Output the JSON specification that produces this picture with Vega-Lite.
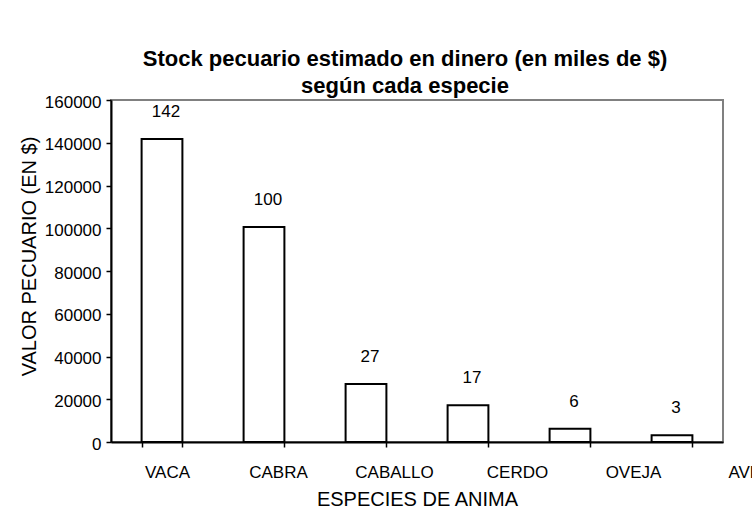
{
  "$schema": "https://vega.github.io/schema/vega-lite/v6.json",
  "width": 612,
  "height": 342,
  "autosize": {"type": "none"},
  "padding": {"left": 111, "top": 100, "right": 29, "bottom": 66},
  "background": "white",
  "title": {
    "text": ["Stock pecuario estimado en dinero (en miles de $)", "según cada especie"],
    "anchor": "middle",
    "dx": -12,
    "fontSize": 22,
    "fontWeight": "bold",
    "font": "Liberation Sans",
    "color": "black",
    "lineHeight": 27,
    "baseline": "bottom",
    "offset": -27
  },
  "data": {
    "values": [
      {"especie": "VACA", "valor": 141800, "etiqueta": "142"},
      {"especie": "CABRA", "valor": 100600, "etiqueta": "100"},
      {"especie": "CABALLO", "valor": 27100, "etiqueta": "27"},
      {"especie": "CERDO", "valor": 17200, "etiqueta": "17"},
      {"especie": "OVEJA", "valor": 6200, "etiqueta": "6"},
      {"especie": "AVES", "valor": 3100, "etiqueta": "3"}
    ]
  },
  "encoding": {
    "x": {
      "field": "especie",
      "type": "nominal",
      "sort": null,
      "scale": {"paddingInner": 0.6, "paddingOuter": 0.3},
      "axis": {
        "title": "ESPECIES DE ANIMA",
        "titleFontSize": 20,
        "titleFontWeight": "normal",
        "titleColor": "black",
        "titleBaseline": "alphabetic",
        "titleY": 63,
        "labelAngle": 0,
        "labelFontSize": 17,
        "labelColor": "black",
        "labelPadding": 30,
        "labelBaseline": "alphabetic",
        "labelOverlap": false,
        "labelOffset": {"expr": "datum.value === 'VACA' ? 5 : datum.value === 'CABRA' ? 14 : datum.value === 'CABALLO' ? 28 : datum.value === 'CERDO' ? 49 : datum.value === 'OVEJA' ? 63 : 78"},
        "tickBand": "extent",
        "tickSize": 5,
        "tickWidth": 1.5,
        "tickColor": "black",
        "domainColor": "black",
        "domainWidth": 2,
        "grid": false
      }
    },
    "y": {
      "field": "valor",
      "type": "quantitative",
      "scale": {"domain": [0, 160000], "nice": false},
      "axis": {
        "values": [0, 20000, 40000, 60000, 80000, 100000, 120000, 140000, 160000],
        "format": "d",
        "title": "VALOR PECUARIO (EN $)",
        "titleFontSize": 20,
        "titleFontWeight": "normal",
        "titleColor": "black",
        "titleAngle": 270,
        "titleX": -82,
        "titleY": 156,
        "titleAlign": "center",
        "titleBaseline": "middle",
        "labelFontSize": 17,
        "labelColor": "black",
        "labelPadding": 5,
        "labelBaseline": "middle",
        "labelOffset": 2,
        "tickSize": 5,
        "tickWidth": 1.5,
        "tickColor": "black",
        "domainColor": "black",
        "domainWidth": 2,
        "grid": false
      }
    }
  },
  "layer": [
    {"mark": {"type": "bar", "fill": "white", "stroke": "black", "strokeWidth": 2}},
    {
      "mark": {"type": "text", "fontSize": 17, "color": "black", "baseline": "alphabetic", "align": "center", "dy": -22, "dx": 4},
      "encoding": {"text": {"field": "etiqueta", "type": "nominal"}}
    }
  ],
  "config": {
    "font": "Liberation Sans",
    "view": {"stroke": "#808080", "strokeWidth": 2}
  }
}
